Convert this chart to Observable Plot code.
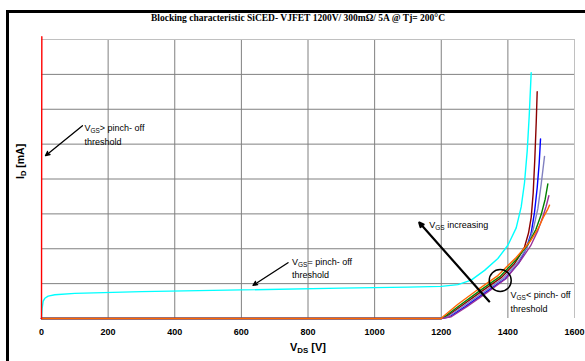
<!DOCTYPE html>
<html><head><meta charset="utf-8">
<script src="https://cdn.jsdelivr.net/npm/d3@7"></script>
<script src="https://cdn.jsdelivr.net/npm/@observablehq/plot@0.6"></script>
<style>
body{margin:0;background:#fff;}
#wrap{position:relative;width:585px;height:361px;overflow:hidden;font-family:"Liberation Sans",Arial,sans-serif;}
#frame{position:absolute;left:6px;top:10px;width:600px;height:400px;border-top:3px solid #000;border-left:3px solid #000;}
#title{position:absolute;left:0;width:596px;top:13px;text-align:center;font:bold 9.5px "Liberation Serif","Times New Roman",serif;white-space:nowrap;}
#chart{position:absolute;left:0;top:30px;}
</style></head><body>
<div id="wrap"><div id="frame"></div><div id="title">Blocking characteristic SiCED- VJFET 1200V/ 300mΩ/ 5A @ Tj= 200°C</div><div id="chart"></div></div>
<script>
// ---- data (V_DS in V, I_D in grid units of the unlabeled mA axis) ----
const xTicks = [0, 200, 400, 600, 800, 1000, 1200, 1400, 1600];
const xGridInner = [200, 400, 600, 800, 1000, 1200, 1400];
const yGridInner = [1, 2, 3, 4, 5, 6, 7];

const redCurve = [[0,0],[0.5,4.6],[1,8.08]];
const cyanCurve = [[0,0],[2,0.3],[5,0.5],[10,0.58],[20,0.64],[40,0.68],[100,0.72],[300,0.77],[600,0.82],[900,0.87],[1100,0.9],[1200,0.92],[1250,0.97],[1290,1.1],[1330,1.38],[1370,1.72],[1400,2.1],[1425,2.6],[1440,3.2],[1450,3.9],[1458,4.8],[1464,5.8],[1470,7.05]];
const darkredCurve = [[0,0],[1200,0],[1215,0.05],[1260,0.36],[1320,0.77],[1380,1.17],[1420,1.57],[1432,1.75],[1450,2.05],[1462,2.45],[1470,2.9],[1476,3.6],[1481,4.6],[1485,5.6],[1488,6.5]];
const blueCurve = [[0,0],[1200,0],[1225,0.05],[1272,0.34],[1332,0.74],[1392,1.14],[1432,1.58],[1455,2.0],[1470,2.45],[1480,3.05],[1488,3.75],[1494,4.45],[1498,5.15]];
const greyblueCurve = [[0,0],[1200,0],[1220,0.05],[1266,0.35],[1326,0.75],[1386,1.15],[1430,1.62],[1458,2.05],[1476,2.55],[1490,3.15],[1500,3.85],[1510,4.65]];
const greenCurve = [[0,0],[1200,0],[1210,0.05],[1256,0.38],[1316,0.8],[1376,1.2],[1426,1.7],[1460,2.12],[1484,2.55],[1500,2.98],[1512,3.42],[1520,3.86]];
const purpleCurve = [[0,0],[1200,0],[1230,0.05],[1277,0.34],[1337,0.74],[1394,1.14],[1436,1.63],[1468,2.08],[1490,2.52],[1505,2.92],[1515,3.22],[1523,3.52]];
const orangeCurve = [[0,0],[1200,0],[1205,0.05],[1250,0.41],[1310,0.83],[1370,1.23],[1425,1.75],[1466,2.2],[1492,2.6],[1508,2.93],[1519,3.12],[1525,3.25]];

const seriesNames = ["cyan","darkred","blue","greyblue","green","purple","orange","red"];
const seriesColors = ["#00ffff","#8b0000","#0000ff","#8080c0","#008000","#993399","#ff6600","#ff0000"];
const seriesCurves = [cyanCurve,darkredCurve,blueCurve,greyblueCurve,greenCurve,purpleCurve,orangeCurve,redCurve];

// annotations (data coordinates)
const noteTexts = ["VGS> pinch- off","threshold","VGS= pinch- off","threshold","VGS increasing","VGS< pinch- off","threshold"];
const noteX = [129, 129, 752, 752, 1164, 1408, 1408];
const noteY = [5.47, 5.07, 1.63, 1.25, 2.69, 0.68, 0.27];
const arrows = [
  {x1:123, y1:5.53, x2:12, y2:4.67, w:1.3},
  {x1:740, y1:1.6, x2:635, y2:0.95, w:1.3},
  {x1:1344, y1:0.49, x2:1134, y2:2.75, w:2.2}
];
const circleAt = [{x:1377, y:1.09}];

// ---- build ----
const marks = [
  Plot.gridX(xGridInner, {stroke:"#808080", strokeOpacity:1}),
  Plot.gridY(yGridInner, {stroke:"#808080", strokeOpacity:1}),
  Plot.ruleX([1600], {stroke:"#c0c0c0"}),
  Plot.ruleY([8], {stroke:"#c0c0c0"}),
  Plot.axisX(xTicks, {tickSize:0, tickPadding:10, fontWeight:"bold", fontSize:9, tickFormat:d=>String(d)}),
  Plot.axisY([], {tickSize:0}),
];
seriesCurves.forEach((c,i)=>{
  marks.push(Plot.line(c, {x:d=>d[0], y:d=>d[1], stroke:seriesColors[i], strokeWidth:1.4, curve:"linear"}));
});
marks.push(
  Plot.dot(circleAt, {x:"x", y:"y", r:11, stroke:"#000", strokeWidth:1.5, fill:"none"}),
  Plot.arrow(arrows, {x1:"x1", y1:"y1", x2:"x2", y2:"y2", stroke:"#000", fill:"#000", strokeWidth:d=>d.w, headLength:7, headAngle:50}),
  Plot.text(noteTexts, {x:(d,i)=>noteX[i], y:(d,i)=>noteY[i], text:d=>d, textAnchor:"start", fontSize:9, fill:"#000"}),
  Plot.text(["VDS [V]"], {frameAnchor:"bottom", dy:32, text:d=>d, fontSize:11, fontWeight:"bold"}),
  Plot.text(["ID [mA]"], {frameAnchor:"left", dx:-21, rotate:-90, text:d=>d, fontSize:10.5, fontWeight:"bold"})
);

const chart = Plot.plot({
  width:585, height:331,
  marginTop:9, marginBottom:43, marginLeft:41, marginRight:11,
  x:{domain:[0,1600]},
  y:{domain:[0,8]},
  style:{fontFamily:"'Liberation Sans', Arial, sans-serif", color:"#000", background:"transparent", overflow:"visible"},
  marks
});
document.getElementById("chart").appendChild(chart);

// subscripts: VGS, VDS, ID
d3.select(chart).selectAll("text").each(function(){
  const el = this;
  if (el.querySelector("tspan")) return;
  const t = el.textContent;
  const m = t.match(/^(V|I)(GS|DS|D)(.*)$/);
  if (!m) return;
  el.textContent = "";
  const s = d3.select(el);
  s.append("tspan").text(m[1]);
  s.append("tspan").attr("baseline-shift","-0.3em").attr("font-size","0.72em").text(m[2]);
  s.append("tspan").text(m[3]);
});
</script>
</body></html>
